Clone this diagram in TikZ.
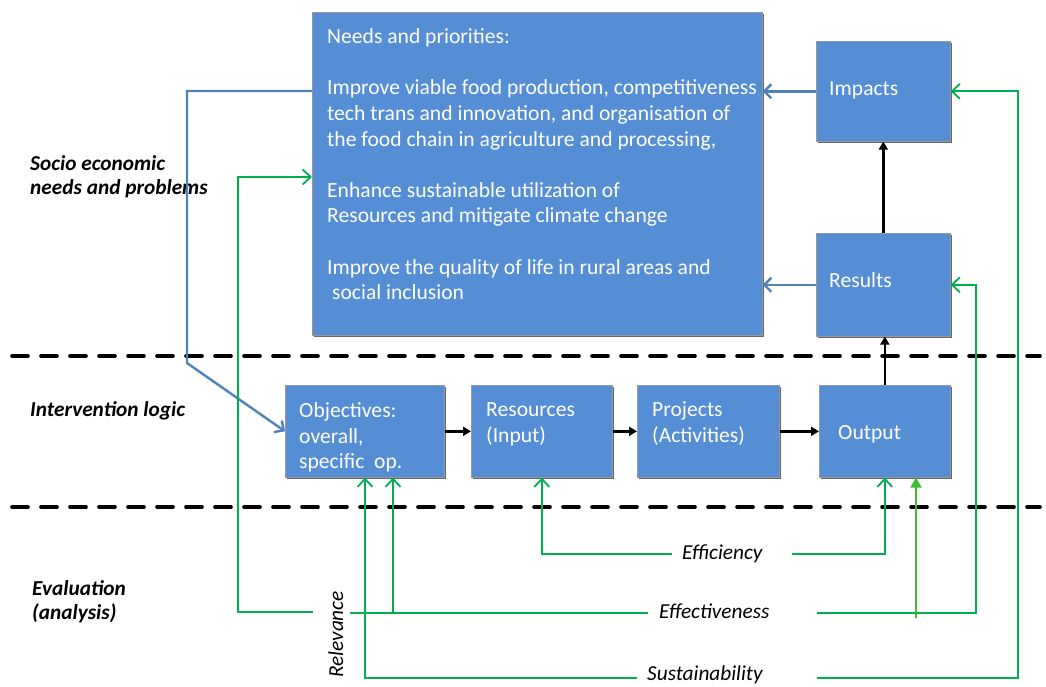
\documentclass[tikz,border=0pt]{standalone}
\usepackage{fontspec}
\setmainfont{Carlito}
\usetikzlibrary{arrows.meta,shadows}
\definecolor{boxblue}{RGB}{85,142,213}
\definecolor{lineblue}{RGB}{79,129,189}
\definecolor{evgreen}{RGB}{0,176,80}
\definecolor{ltgreen}{RGB}{60,190,50}
\newcommand{\fl}{\rule{0pt}{16pt}}
\begin{document}
\begin{tikzpicture}[x=1pt,y=-1pt,
  box/.style={fill=boxblue, draw=black!40, line width=0.6pt, inner sep=0pt,
    anchor=north west,
    drop shadow={shadow xshift=1.6pt, shadow yshift=-1.6pt, fill=black!60, opacity=1}},
  boxtext/.style={text=white, font=\fontsize{21.6}{25.6}\selectfont, align=left, inner sep=0pt},
  sidelabel/.style={font=\fontsize{21.3}{24}\selectfont\bfseries\itshape, align=left, inner sep=0pt, anchor=north west},
  evlabel/.style={font=\fontsize{21.3}{22}\selectfont\itshape, inner sep=0pt, anchor=base west},
  sepline/.style={line width=3.6pt, line cap=round, dash pattern=on 16pt off 13pt},
  bluec/.style={draw=lineblue, line width=2.4pt},
  bluearr/.style={bluec, -{Straight Barb[length=7pt,width=14pt]}},
  blackarr/.style={draw=black, line width=2.4pt, -{Triangle[length=8pt,width=9pt]}},
  greenc/.style={draw=evgreen, line width=1.8pt},
  greenarr/.style={greenc, -{Straight Barb[length=8pt,width=15pt]}},
  ltgreenarr/.style={draw=ltgreen, line width=2.6pt, -{Triangle[length=10pt,width=11pt]}}
]
\useasboundingbox (0,0) rectangle (1046,686);

% separators
\draw[sepline] (12,356) -- (1040,356);
\draw[sepline] (12,507) -- (1040,507);

% boxes
\node[box, minimum width=450, minimum height=323] (needs) at (312,12) {};
\node[box, minimum width=134, minimum height=100] (impacts) at (816,41) {};
\node[box, minimum width=134, minimum height=103] (results) at (816,233) {};
\node[box, minimum width=159, minimum height=92] (objectives) at (285,385) {};
\node[box, minimum width=141, minimum height=92] (resources) at (471,385) {};
\node[box, minimum width=142, minimum height=92] (projects) at (637,385) {};
\node[box, minimum width=131, minimum height=92] (output) at (819,385) {};

% box texts
\node[boxtext, anchor=north west] (needstext) at (327,27.5) {\fl Needs and priorities:\\[25.6pt]
Improve viable food production, competitiveness\\
tech trans and innovation, and organisation of\\
the food chain in agriculture and processing,\\[25.6pt]
Enhance sustainable utilization of\\
Resources and mitigate climate change\\[25.6pt]
Improve the quality of life in rural areas and\\
\ social inclusion};
\node[boxtext, anchor=base west] (impactstext) at (829,95.5) {Impacts};
\node[boxtext, anchor=base west] (resultstext) at (829,287.5) {Results};
\node[boxtext, anchor=north west] (objtext) at (299,401.5) {\fl Objectives:\\ overall,\\ specific\ \ op.};
\node[boxtext, anchor=north west] (restext) at (486,400.5) {\fl Resources\\ (Input)};
\node[boxtext, anchor=north west] (projtext) at (652,400.5) {\fl Projects\\ (Activities)};
\node[boxtext, anchor=base west] (outtext) at (838,439.5) {Output};

% side labels
\node[sidelabel] (lsocio) at (30,154) {\fl Socio economic\\ needs and problems};
\node[sidelabel] (linterv) at (30,400) {\fl Intervention logic};
\node[sidelabel] (leval) at (32,579) {\fl Evaluation\\ (analysis)};

% evaluation labels
\node[evlabel] (tEffic) at (682,559) {Efficiency};
\node[evlabel] (tEffect) at (659,618) {Effectiveness};
\node[evlabel] (tSust) at (647,680.5) {Sustainability};
\node[evlabel, rotate=90] (tRel) at (343,678) {Relevance};

% coordinates for free ends and corners
\coordinate (relL) at (313,612);
\coordinate (relCorner) at (238,177);
\coordinate (relR) at (350,613);
\coordinate (effL) at (648,613);
\coordinate (effR) at (817,613);
\coordinate (effObj) at (393,613);
\coordinate (effcL) at (672,554);
\coordinate (effcR) at (792,554);
\coordinate (susL) at (637,678);
\coordinate (susR) at (817,678);
\coordinate (susX) at (365,0);
\coordinate (effX) at (976,0);
\coordinate (susRX) at (1018,0);
\coordinate (ltg) at (916,618);
\coordinate (blueTop) at (187,91);
\coordinate (blueBot) at (187,363);

% blue connectors
\draw[bluearr] (needs.west |- blueTop) -- (blueTop) -- (blueBot) -- (objectives.west);
\draw[bluearr] (impacts.west) -- (needs.east |- impacts.west);
\draw[bluearr] (results.west) -- (needs.east |- results.west);

% black connectors
\draw[blackarr] (results.north) -- (impacts.south);
\draw[blackarr] (output.north) -- (output.north |- results.south);
\draw[blackarr] (objectives.east) -- (resources.west);
\draw[blackarr] (resources.east) -- (projects.west);
\draw[blackarr] (projects.east) -- (output.west);

% green connectors
\draw[greenarr] (relL) -| (relCorner) -- (needs.west |- relCorner);
\draw[greenc] (effL) -- (relR);
\draw[greenarr] (effObj) -- (effObj |- objectives.south);
\draw[greenarr] (susL) -| (objectives.south -| susX);
\draw[greenarr] (effcL) -| (resources.south);
\draw[greenarr] (effcR) -| (output.south);
\draw[greenarr] (effR) -| (results.east -| effX) -- (results.east);
\draw[greenarr] (susR) -| (impacts.east -| susRX) -- (impacts.east);
\draw[ltgreenarr] (ltg) -- (output.south -| ltg);
\end{tikzpicture}
\end{document}
